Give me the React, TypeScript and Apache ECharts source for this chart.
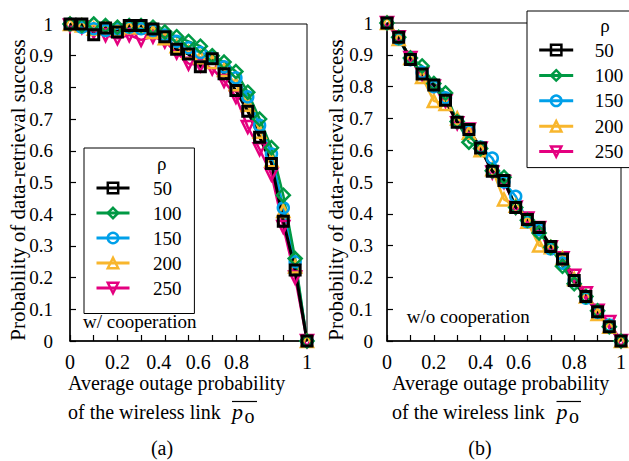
import React, { useEffect, useRef } from 'react';
import * as echarts from 'echarts';

// x values: average outage probability of the wireless link
const pValues = [0, 0.05, 0.1, 0.15, 0.2, 0.25, 0.3, 0.35, 0.4, 0.45, 0.5, 0.55, 0.6, 0.65, 0.7, 0.75, 0.8, 0.85, 0.9, 0.95, 1];
const rhoNames = ['50', '100', '150', '200', '250'];

// (a) w/ cooperation
const coop50 = [1.0, 1.0, 0.966, 0.987, 0.975, 0.995, 0.995, 0.984, 0.96, 0.92, 0.905, 0.865, 0.89, 0.843, 0.79, 0.725, 0.643, 0.56, 0.378, 0.224, 0];
const coop100 = [1.0, 0.995, 1.0, 0.995, 0.99, 0.995, 0.995, 0.99, 0.975, 0.96, 0.945, 0.93, 0.9, 0.88, 0.85, 0.785, 0.7, 0.61, 0.46, 0.26, 0];
const coop150 = [1.0, 0.99, 0.985, 0.98, 0.985, 0.99, 0.985, 0.98, 0.965, 0.945, 0.925, 0.91, 0.895, 0.865, 0.83, 0.77, 0.68, 0.59, 0.42, 0.25, 0];
const coop200 = [1.0, 0.995, 0.985, 0.99, 0.985, 0.99, 0.99, 0.975, 0.955, 0.93, 0.91, 0.895, 0.88, 0.855, 0.81, 0.745, 0.66, 0.57, 0.41, 0.235, 0];
const coop250 = [0.995, 0.99, 0.975, 0.965, 0.955, 0.965, 0.95, 0.96, 0.945, 0.91, 0.875, 0.87, 0.86, 0.82, 0.77, 0.675, 0.605, 0.525, 0.36, 0.2, 0];

// (b) w/o cooperation
const noCoop50 = [1.0, 0.955, 0.885, 0.84, 0.805, 0.757, 0.688, 0.665, 0.607, 0.534, 0.505, 0.42, 0.382, 0.357, 0.297, 0.258, 0.19, 0.14, 0.092, 0.045, 0];
const noCoop100 = [1.0, 0.955, 0.89, 0.865, 0.81, 0.78, 0.69, 0.625, 0.605, 0.535, 0.515, 0.42, 0.38, 0.34, 0.295, 0.235, 0.18, 0.14, 0.095, 0.045, 0];
const noCoop150 = [1.0, 0.95, 0.885, 0.845, 0.8, 0.765, 0.69, 0.66, 0.61, 0.575, 0.5, 0.455, 0.375, 0.35, 0.29, 0.245, 0.19, 0.135, 0.09, 0.05, 0];
const noCoop200 = [1.0, 0.95, 0.89, 0.83, 0.755, 0.745, 0.7, 0.655, 0.6, 0.54, 0.445, 0.425, 0.375, 0.3, 0.295, 0.26, 0.195, 0.14, 0.085, 0.045, 0];
const noCoop250 = [1.0, 0.955, 0.89, 0.84, 0.8, 0.755, 0.685, 0.665, 0.605, 0.53, 0.5, 0.42, 0.385, 0.355, 0.295, 0.26, 0.205, 0.15, 0.095, 0.06, 0];

const coopSets = [coop50, coop100, coop150, coop200, coop250];
const noCoopSets = [noCoop50, noCoop100, noCoop150, noCoop200, noCoop250];

const xTickLabels = ['0', '0.2', '0.4', '0.6', '0.8', '1'];
const yTickLabels = ['0', '0.1', '0.2', '0.3', '0.4', '0.5', '0.6', '0.7', '0.8', '0.9', '1'];

const FONT = 'Liberation Serif';

const styles = [
  { color: '#000000', symbol: 'rect', size: 10, rotate: 0, border: 3, width: 3 },
  { color: '#009944', symbol: 'diamond', size: 13, rotate: 0, border: 2.5, width: 2.5 },
  { color: '#00a0e9', symbol: 'circle', size: 11, rotate: 0, border: 2.5, width: 2.5 },
  { color: '#f8b62d', symbol: 'triangle', size: 12, rotate: 0, border: 2.5, width: 2.5 },
  { color: '#e4007f', symbol: 'triangle', size: 12, rotate: 180, border: 2.5, width: 2.5 },
];

// label left-shifts (px) reproducing the typed tick labels of the original figure
const labelShiftA: Record<number, number> = { 4: 6, 6: 14, 8: 23 };
const labelShiftB: Record<number, number> = { 6: 9 };

function makeRich() {
  const rich: Record<string, any> = {};
  [0, 6, 9, 14, 23].forEach((d) => {
    rich['s' + d] = { fontSize: 20, fontFamily: FONT, color: '#000', padding: [0, 2 * d, 0, 0] };
  });
  return rich;
}

function xAxisFor(grid: number, shifts: Record<number, number>) {
  return {
    gridIndex: grid,
    type: 'value',
    min: 0,
    max: 1,
    interval: 0.1,
    axisLine: { lineStyle: { color: '#000', width: 1.5 } },
    axisTick: { inside: true, length: 6, lineStyle: { color: '#000', width: 1.2 } },
    splitLine: { show: false },
    axisLabel: {
      margin: 11,
      fontSize: 20,
      fontFamily: FONT,
      color: '#000',
      showMinLabel: true,
      showMaxLabel: true,
      rich: makeRich(),
      formatter: (v: number) => {
        const k = Math.round(v * 10);
        if (k % 2 !== 0) return '';
        const d = shifts[k] || 0;
        return '{s' + d + '|' + xTickLabels[k / 2] + '}';
      },
    },
  };
}

function yAxisFor(grid: number, margin: number) {
  return {
    gridIndex: grid,
    type: 'value',
    min: 0,
    max: 1,
    interval: 0.1,
    axisLine: { show: true, lineStyle: { color: '#000', width: 1.5 } },
    axisTick: { show: true, inside: true, length: 6, lineStyle: { color: '#000', width: 1.2 } },
    splitLine: { show: false },
    axisLabel: {
      margin,
      fontSize: 19,
      fontFamily: FONT,
      color: '#000',
      formatter: (v: number) => yTickLabels[Math.round(v * 10)],
    },
  };
}

function buildSeries() {
  const out: any[] = [];
  [coopSets, noCoopSets].forEach((sets, g) => {
    for (let i = sets.length - 1; i >= 0; i--) {
      const s = styles[i];
      out.push({
        type: 'line',
        name: rhoNames[i],
        xAxisIndex: g,
        yAxisIndex: g,
        data: pValues.map((x, j) => [x, sets[i][j]]),
        symbol: s.symbol,
        symbolSize: s.size,
        symbolRotate: s.rotate,
        showAllSymbol: true,
        itemStyle: { color: 'rgba(0,0,0,0)', borderColor: s.color, borderWidth: s.border },
        lineStyle: { color: s.color, width: s.width },
        emphasis: { disabled: true },
        silent: true,
      });
    }
  });
  return out;
}

function legendAt(left: number, top: number, padding: number[], itemWidth: number, itemGap: number, textPad: number) {
  return {
    data: rhoNames,
    orient: 'vertical',
    left,
    top,
    padding,
    itemWidth,
    itemHeight: 13,
    itemGap,
    selectedMode: false,
    backgroundColor: '#fff',
    borderColor: '#000',
    borderWidth: 1,
    itemStyle: { borderWidth: 2.5 },
    lineStyle: { width: 3 },
    textStyle: { fontSize: 19, fontFamily: FONT, color: '#000', lineHeight: 19, padding: [0, 0, 0, textPad] },
  };
}

function txt(x: number, y: number, text: string, size: number, extra: any = {}, align = 'left') {
  return {
    type: 'text',
    x,
    y,
    z: 100,
    rotation: extra.rotation || 0,
    style: {
      text,
      fontSize: size,
      fontFamily: FONT,
      fontStyle: extra.italic ? 'italic' : 'normal',
      fill: '#000',
      textAlign: align,
      textVerticalAlign: 'middle',
    },
  };
}

function overline(x1: number, x2: number, y: number) {
  return { type: 'line', z: 100, shape: { x1, y1: y, x2, y2: y }, style: { stroke: '#000', lineWidth: 1.2 } };
}

export default function App() {
  const ref = useRef<HTMLDivElement>(null);
  useEffect(() => {
    if (!ref.current) return;
    const chart = echarts.init(ref.current, null, { renderer: 'svg' });
    const yTitle = 'Probability of data-retrieval success';
    chart.setOption({
      animation: false,
      backgroundColor: '#fff',
      textStyle: { fontFamily: FONT },
      grid: [
        { left: 70, top: 24, width: 237, height: 317, show: true, borderColor: '#000', borderWidth: 1 },
        { left: 387, top: 23, width: 238, height: 318, show: true, borderColor: '#000', borderWidth: 1 },
      ],
      xAxis: [xAxisFor(0, labelShiftA), xAxisFor(1, labelShiftB)],
      yAxis: [yAxisFor(0, 17), yAxisFor(1, 14)],
      legend: [
        legendAt(84, 148, [30.5, 13, 16, 11], 33, 6, 18.4),
        legendAt(527, 11, [29.5, 40, 6.5, 10.7], 34, 6.4, 16.6),
      ],
      series: buildSeries(),
      graphic: [
        txt(18, 190, yTitle, 21, { rotation: Math.PI / 2 }, 'center'),
        txt(336, 190, yTitle, 21, { rotation: Math.PI / 2 }, 'center'),
        txt(161.7, 163, 'ρ', 19, {}, 'center'),
        txt(605, 25, 'ρ', 19, {}, 'center'),
        txt(83, 321, 'w/ cooperation', 19),
        txt(406.7, 316.7, 'w/o cooperation', 19),
        txt(68, 383, 'Average outage probability', 20),
        txt(68, 411.5, 'of the wireless link', 20),
        txt(232, 411.5, 'p', 22, { italic: true }),
        txt(244.5, 416, 'o', 20),
        overline(232, 257, 401.5),
        txt(392, 383, 'Average outage probability', 20),
        txt(392, 411.5, 'of the wireless link', 20),
        txt(556.5, 411.5, 'p', 22, { italic: true }),
        txt(569, 416, 'o', 20),
        overline(556.5, 581, 401.5),
        txt(162, 448, '(a)', 20, {}, 'center'),
        txt(480, 448, '(b)', 20, {}, 'center'),
      ],
    });
    return () => chart.dispose();
  }, []);
  return (
    <div
      ref={ref}
      style={{ position: 'absolute', left: 0, top: 0, width: 629, height: 461, background: '#fff' }}
    />
  );
}
